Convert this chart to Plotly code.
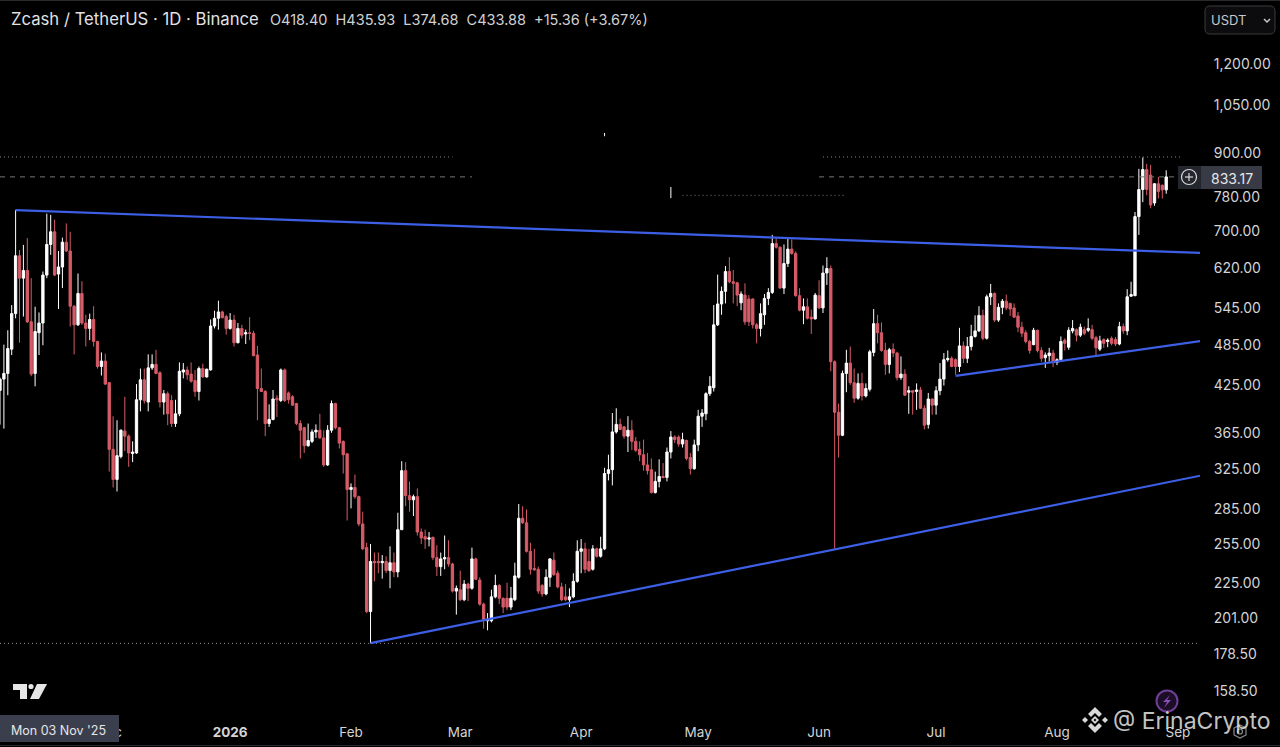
import pandas as pd
import plotly.graph_objects as go

START_DATE = "2025-11-03"

opens = [
 418.4,434,442,478,536,646,601,616,522,442,
 504,520,607,670,698,609,623,675,656,549,
 517,572,520,511,526,490,452,460,429,346,
 314,338,367,361,341.3,342,406,433,403,450,
 455,443,403,414,405,376,388,444,447,441,
 432,417,449,437,447,515,528,539,531,511,
 525,488,511,502,504,503,469,421,417,376,
 381,408,405,447,415,410,401,376,371,350,
 355,366,368,359,329,368,401,371,355,341,
 304,306,297,272,252,205,241,241,240,241,
 234,240,233,267,323,298,294,297,265,261,
 259,260.5,244,237,243,244,239,219,220,213,
 224,221,243,227,210,199,199,215,223,214,
 214,208,213,229,277,273,249,235.5,235,223,
 217,229,242,232,222,215,213,215,226,249,
 251,241,235,251,245,251,320,324,366,375,
 372,361,368,355,346,340,329,324,301,312,
 317,316,343,360,360,352,356,337,325,351,
 385,388,414,422,517,553,576,614,594,592,
 555,569,562,562,517,511,534,563,574,672,
 664,582,630,660,651,568,542,548,530,527,
 568,546,611,620,459,390,362,442,457,429,
 408,428,411,420,473,519,504,476,455,478,
 472,436,441,416,418,417,419,395,375,407,
 399,418,434,462,464,462,452,483,464,482,
 498,507,533,495,566,572,525,547,558,554,
 546,532,513,504,490,485,508,476,465,468,
 472,458,462,492,481,507,509,500,509,508,
 509,496,478,493,490,495,493,486,514,507,
 567,568,733,800,853,838,766,815,811,799,
]
highs = [
 435.93,485,508,551,749,658,669,684,601,548,
 538,614,740,737,726,656,685,717,698,551,
 610,595,534,536,549,491,473,471,430,385,
 380,369,410,363,355,427,449,449,470,470,
 477,445,419,417,412,406,458,457,452,458,
 447,452,456,449,526,541,559,541,534,537,
 534,520,517,509,530,507,483,449,419,400,
 419,412,449,449,417,412,402,380,372,376,
 369,375,388,368,374,405,402,372,356,342,
 310,319,298,283,256,255,248,248,246,245,
 253,248,282,333,332,312,299,305,268,267,
 265,261,254,248,262,258,240,223,234,227,
 225,252,244,229,211,204,220,231,224,214.5,
 225,222,240,290,288,285,256,251,237,224,
 235,243.5,248,234,225,224,221,232,258,259,
 256,251,254,252,261,326,340,389,395,382,
 373,385,380,360,355,357,342,336,322,335,
 331,348,367,362,362,365,357,342,357,393,
 394,416,438,551,608,585,625,643,617,594,
 576,591,569,563,520,554,571,582,691,683,
 666,670,685,681,655,582,563,563,543,573,
 597,626,643,626,461,401,446,477,482,449,
 442,443,428,477,544,534,521,488,480,487,
 474,467,448,424,418.5,428,423,399,415,407.5,
 424,457,472,476,467,464,512,490,497,517,
 533,549,543,570,590,574,554,562,570,555,
 554,539,522,508,492.5,512,509,481,473,480,
 477,464,498,495,513,525,511,519,514,528,
 517,499,499,495,495,498,497,522,519,580,
 594,744,855,887,869,866,817,833,813,851,
]
lows = [
 374.68,370,412,469,528,488,531,520,438,424,
 469,484,601,648,605,544,582,654,514,470,
 515,517,482,492,482,449,439,426,322,306,
 302,336,344,327,332,341,391,401,391,447,
 441,396,387,374,372,372,385,435,433,429,
 410,405,436,436,446,511,509,528,501,509,
 482,487,495,486,492,467,380,417,361,372,
 380,384,403,403,401,398,374,336,342,349,
 353,359,358,327,328,365,369,347,320,275,
 286,295,270,250,204,185,226,232,228,232,
 221,229,229,267,288,283,279,262,255,251,
 253,242,230,230,235,237,218,203,212,212,
 212,220,227,209,194,193,198,214,210,204,
 206,206,212,228,272,248,231,234,217,215,
 216,222,230,221,212,212,208,214,225,232,
 232,233,234,244,244,250,313,308,364,368,
 358,343,345,343,333,323,319,300,300,306,
 315,312,336,353,349,348,334,319,324,344,
 372,380,411,417,515,534,554,591,554,549,
 542,517,515,511,487,498,517,551,571,661,
 581,571,623,648,566,540,518,526,502,526,
 544,537,588,445,251,337,361,416,426,402,
 406,405,409,417,467,487,474,440,442,466,
 432,433,411,388,387,393,394,369,370,387,
 387,412,425,459,451,440,444,457,457,476,
 496,505,492,493,551,522,522,535,542,532,
 529,505,497,487,471,484,473,459,450,459,
 451,454,460,476,477,503,490,497,500,505,
 492,467,475,480,481,484,483,484,502,500,
 566,567,691,768,785,753,759,777,777,789,
]
closes = [
 433.88,442,479,536,646,601,616,522,441,506,
 520,607,670,698,607,623,675,656,549,517,
 572,520,511,526,490,452,460,427,346,314,
 339,368,361,342,343,406,433,405,450,455,
 442,403,414,388,376,388,445,447,440,431,
 417,449,437,448,515,528,539,529,511,525,
 488,511,500,504,503,468,421,417,376,381,
 407,406,447,405,406,399,376,368,350,356,
 366,368,359,329,368,401,371,353,340,304,
 306,297,272,251,205,241,240,240,241,234,
 240,233,267,323,298,294,297,265,260,259,
 260,244,237,243,244,239,219,221,213,224,
 221,243,227.5,210,200,200,215,223,214,208,
 208,214,230,277,273,249,235,234.6,219,217,
 229,243,231,222,213,213,215,226,249,251,
 235,234,251,245,251,320,324,366,375,369,
 361,368,355,345,340,329,323,301,312,317,
 316,343,360,357,352,357,336,325,351,385,
 389,414,424,517,553,576,614,594,591,569,
 571,522,522,517,511,536,563,574,672,664,
 582,630,660,651,568,542,548,528,527,569,
 546,611,620,459,390,362,442,457,429,408,
 428,411,421,474,519,504,476,455,477,472,
 436,441,412,418,416,419,395,374,407,399,
 418,434,462,464,452,452,483,464,482,498,
 507,533,495,566,572,525,547,558,546,544,
 530,513,503,490,476,508,476,464,469,472,
 458,462,490,487,508,511,500,513,503,511,
 495,480,491,487,492,487,486,514,507,566,
 570,733,800,853,800,761,815,795,799,833.17,
]
if not (len(opens) == len(highs) == len(lows) == len(closes) == 300):
    raise ValueError((len(opens), len(highs), len(lows), len(closes)))

price_ticks = [1200, 1050, 900, 780, 700, 620, 545, 485, 425, 365, 325, 285, 255, 225, 201, 178.5, 158.5]
price_labels = ["1,200.00", "1,050.00", "900.00", "780.00", "700.00", "620.00", "545.00", "485.00",
                "425.00", "365.00", "325.00", "285.00", "255.00", "225.00", "201.00", "178.50", "158.50"]
month_ticks = ["2025-12-01", "2026-01-01", "2026-02-01", "2026-03-01", "2026-04-01", "2026-05-01",
               "2026-06-01", "2026-07-01", "2026-08-01", "2026-09-01"]
month_labels = ["Dec", "<b>2026</b>", "Feb", "Mar", "Apr", "May", "Jun", "Jul", "Aug", "Sep"]

upper_line_dates = ["2025-11-07", "2026-09-07"]
upper_line_prices = [748.7, 651.8]
lower_line_dates = ["2026-02-06", "2026-09-07"]
lower_line_prices = [185.2, 318.0]
mid_line_dates = ["2026-07-06", "2026-09-07"]
mid_line_prices = [438.4, 490.8]

last_price = 833.17
high_level = 888.5
low_level = 185.0

title_text = "Zcash / TetherUS · 1D · Binance"
ohlc_text = "O418.40  H435.93  L374.68  C433.88  +15.36 (+3.67%)"
crosshair_text = "Mon 03 Nov '25"
watermark_text = "@ ErinaCrypto"

BG = "#000000"
RED = "#D65C68"
WHITE = "#FFFFFF"
BLUE = "#3D5FE6"
TEXT = "#D4D4D6"
FONT = "Inter, 'Liberation Sans', sans-serif"

W, H = 1280, 747
L, R, T, B = 0, 80, 40, 31
PW, PH = W - L - R, H - T - B


def xp(x):
    return (x - L) / PW


def yp(y):
    return (H - B - y) / PH


def poly(points, close=True):
    s = "M " + " L ".join(f"{xp(a):.5f} {yp(b):.5f}" for a, b in points)
    return s + (" Z" if close else "")


def shape_path(points, fill=None, line=None, width=1, close=True):
    return dict(type="path", xref="paper", yref="paper", path=poly(points, close),
                fillcolor=fill or "rgba(0,0,0,0)",
                line=dict(color=line or "rgba(0,0,0,0)", width=width if line else 0))


def shape_circle(cx, cy, r, fill=None, line=None, width=1):
    return dict(type="circle", xref="paper", yref="paper", x0=xp(cx - r), x1=xp(cx + r), y0=yp(cy + r), y1=yp(cy - r),
                fillcolor=fill or "rgba(0,0,0,0)", line=dict(color=line or "rgba(0,0,0,0)", width=width if line else 0))


def label(x, y, text, size=13, color=TEXT, anchor="left"):
    return dict(xref="paper", yref="paper", x=xp(x), y=yp(y), text=text, showarrow=False, xanchor=anchor, yanchor="middle",
                font=dict(family=FONT, size=size, color=color), borderpad=0)


dates = pd.date_range(START_DATE, periods=len(closes), freq="D")

fig = go.Figure()
fig.add_trace(go.Candlestick(
    x=dates, open=opens, high=highs, low=lows, close=closes,
    increasing=dict(line=dict(color=WHITE, width=1), fillcolor=WHITE),
    decreasing=dict(line=dict(color=RED, width=1), fillcolor=RED),
    whiskerwidth=0, showlegend=False,
))


def level(d, p, color, dash, width=1):
    fig.add_trace(go.Scatter(x=d, y=p, mode="lines", line=dict(color=color, width=width, dash=dash),
                             hoverinfo="skip", showlegend=False))


level(["2025-11-03", "2026-02-27"], [high_level] * 2, "#8a8a8a", "1px,3px")
level(["2026-06-02", "2026-09-02"], [high_level] * 2, "#8a8a8a", "1px,3px")
level(["2025-11-03", "2026-03-04"], [last_price] * 2, "#777777", "5px,5px")
level(["2026-06-01", "2026-09-02"], [last_price] * 2, "#777777", "5px,5px")
level(["2026-04-27", "2026-06-08"], [785.0, 785.0], "#777777", "1px,3px")
level(["2026-04-07", "2026-04-07"], [960.0, 950.0], "#ffffff", "solid")
level(["2026-04-24", "2026-04-24"], [806.5, 778.0], "#ffffff", "solid")
level(["2025-11-03", "2026-09-07"], [low_level] * 2, "#8a8a8a", "1px,3px")
level(upper_line_dates, upper_line_prices, BLUE, "solid", 2.2)
level(lower_line_dates, lower_line_prices, BLUE, "solid", 2.2)
level(mid_line_dates, mid_line_prices, BLUE, "solid", 2.2)

shapes = [
    # currency selector
    dict(type="path", xref="paper", yref="paper", line=dict(color="#3c3c3e", width=1), fillcolor="#0c0c0e",
         path=(f"M {xp(1210):.5f} {yp(6):.5f} L {xp(1270):.5f} {yp(6):.5f} Q {xp(1275):.5f} {yp(6):.5f} {xp(1275):.5f} {yp(11):.5f} "
               f"L {xp(1275):.5f} {yp(29):.5f} Q {xp(1275):.5f} {yp(34):.5f} {xp(1270):.5f} {yp(34):.5f} "
               f"L {xp(1210):.5f} {yp(34):.5f} Q {xp(1205):.5f} {yp(34):.5f} {xp(1205):.5f} {yp(29):.5f} "
               f"L {xp(1205):.5f} {yp(11):.5f} Q {xp(1205):.5f} {yp(6):.5f} {xp(1210):.5f} {yp(6):.5f} Z")),
    shape_path([(1264, 19), (1267, 22), (1270, 19)], line="#c8c8c8", width=1.5, close=False),
    # last price pill and plus button
    shape_path([(1178, 166), (1201, 166), (1201, 189), (1178, 189)], fill="#24262e"),
    shape_path([(1201, 166), (1262, 166), (1262, 189), (1201, 189)], fill="#383b46"),
    shape_circle(1189, 177, 7.5, line="#d8d8d8", width=1.2),
    shape_path([(1185, 177), (1193, 177)], line="#d8d8d8", width=1.2, close=False),
    shape_path([(1189, 173), (1189, 181)], line="#d8d8d8", width=1.2, close=False),
    # TradingView mark
    shape_path([(13, 684), (27, 684), (27, 699), (20, 699), (20, 690), (13, 690)], fill="#e6e6e6"),
    shape_circle(31, 686.5, 2.6, fill="#e6e6e6"),
    shape_path([(37, 684), (47, 684), (39, 699), (30, 699)], fill="#e6e6e6"),
    # crosshair date tag
    shape_path([(0, 715), (119, 715), (119, 742), (0, 742)], fill="#3b3e4c"),
    # lightning badge
    shape_circle(1167, 701, 10.5, fill="#1c0e26", line="#6f3f95", width=2),
    shape_path([(1170, 695), (1163, 702), (1167, 702), (1164, 708), (1171, 700), (1167, 700)], fill="#8a4ab8"),
    # settings icon
    shape_path([(1240, 725), (1246, 728), (1246, 735), (1240, 738), (1234, 735), (1234, 728)], line="#8c8c8c", width=1.2),
    shape_circle(1240, 731.5, 2.5, line="#8c8c8c", width=1.2),
    # Binance mark
    shape_path([(1095, 707), (1102, 714), (1099, 717), (1095, 713), (1091, 717), (1088, 714)], fill="#d8d8d8"),
    shape_path([(1095, 733), (1102, 726), (1099, 723), (1095, 727), (1091, 723), (1088, 726)], fill="#d8d8d8"),
    shape_path([(1085, 717), (1088, 720), (1085, 723), (1082, 720)], fill="#d8d8d8"),
    shape_path([(1105, 717), (1108, 720), (1105, 723), (1102, 720)], fill="#d8d8d8"),
    shape_path([(1095, 716), (1099, 720), (1095, 724), (1091, 720)], fill="#d8d8d8"),
    shape_path([(1095, 718.5), (1096.5, 720), (1095, 721.5), (1093.5, 720)], fill="#000000"),
    # frame lines
    shape_path([(0, 745.5), (1280, 745.5)], line="#2a2a2c", width=1, close=False),
    shape_path([(0, 0.5), (1280, 0.5)], line="#2a2a2c", width=1, close=False),
]

annotations = [
    label(10, 19, title_text, size=16.7, color="#E2E2E4"),
    label(269, 19, ohlc_text, size=14.5, color="#D0D0D2"),
    label(1210, 20, "USDT", size=13, color="#C8C8CC"),
    label(1210, 178, f"{last_price:.2f}", size=14, color="#E6E6E8"),
    label(10, 730.5, crosshair_text, size=12.5, color="#E6E6E8"),
    label(1112, 721, watermark_text, size=23, color="rgba(232,232,232,0.85)"),
]

fig.update_layout(
    width=W, height=H, margin=dict(l=L, r=R, t=T, b=B, pad=0),
    paper_bgcolor=BG, plot_bgcolor=BG, showlegend=False, boxgap=0.15,
    font=dict(family=FONT, size=13, color=TEXT),
    shapes=shapes, annotations=annotations,
    xaxis=dict(type="date", range=["2025-11-03", "2026-09-06 16:00"], rangeslider=dict(visible=False),
               showgrid=False, zeroline=False, showline=False, tickmode="array", tickvals=month_ticks,
               ticktext=month_labels, ticks="outside", ticklen=4, tickcolor=BG, tickangle=0,
               tickfont=dict(family=FONT, size=13.5, color=TEXT)),
    yaxis=dict(type="log", side="right", range=[2.1655, 3.1125], showgrid=False, zeroline=False, showline=False,
               tickmode="array", tickvals=price_ticks, ticktext=price_labels, ticks="outside", ticklen=10, tickcolor=BG,
               tickfont=dict(family=FONT, size=14, color=TEXT)),
)

fig.write_html("out.html", config={"displayModeBar": False},
               post_script="document.body.style.margin='0';document.body.style.background='#000';")
